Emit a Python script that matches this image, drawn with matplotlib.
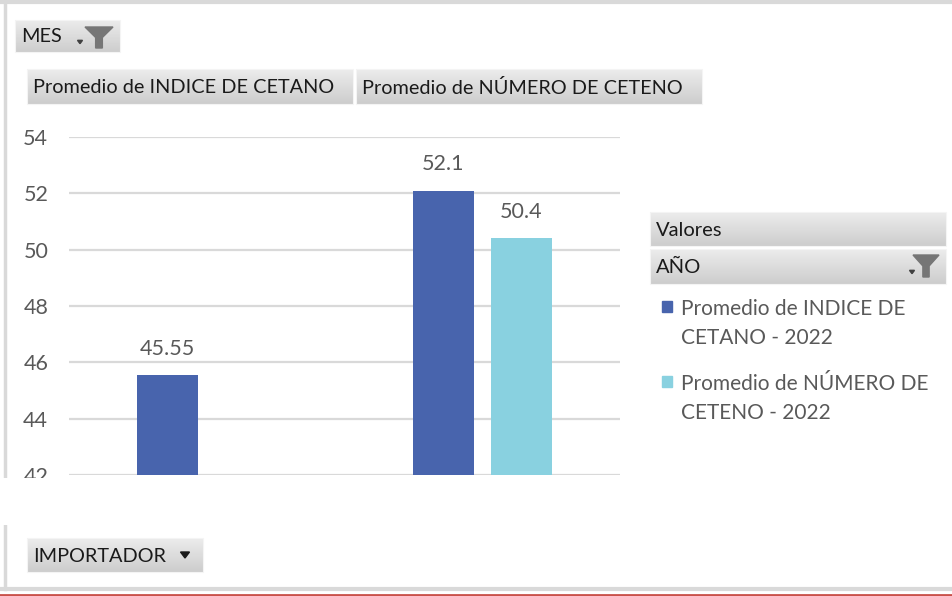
import matplotlib
matplotlib.use("Agg")
import matplotlib.pyplot as plt
import numpy as np
from matplotlib.patches import Rectangle, Polygon

# pivot chart data: two categories, two value series (2022)
categories = ["INDICE DE CETANO", "NÚMERO DE CETENO"]
series_names = ["Promedio de INDICE DE\nCETANO - 2022", "Promedio de NÚMERO DE\nCETENO - 2022"]
indice_cetano = [45.55, 52.1]
numero_ceteno = [np.nan, 50.4]
series_colors = ["#4864AD", "#89D1E0"]
y_ticks = [42, 44, 46, 48, 50, 52, 54]

plt.rcParams["font.family"] = ["Lato", "DejaVu Sans"]
W, H = 953, 596
fig = plt.figure(figsize=(W / 100, H / 100), dpi=100)
fig.patch.set_facecolor("white")

# main plot area in pixel terms
px_l, px_r, px_t, px_b = 69, 620, 137, 475
ax = fig.add_axes([px_l / W, 1 - px_b / H, (px_r - px_l) / W, (px_b - px_t) / H])
ax.set_zorder(1)

x = np.arange(len(categories))
bw = 0.221
off = 0.1416
b1 = ax.bar(x - off, indice_cetano, bw, color=series_colors[0], zorder=3)
b2 = ax.bar(x + off, numero_ceteno, bw, color=series_colors[1], zorder=3)
for bars, vals in [(b1, indice_cetano), (b2, numero_ceteno)]:
    for r, v in zip(bars, vals):
        if np.isnan(v):
            continue
        ax.annotate(f"{v:g}", (r.get_x() + r.get_width() / 2, v), xytext=(0, 19),
                    textcoords="offset points", ha="center", va="center",
                    fontsize=15.5, color="#595959")

ax.set_xlim(-0.5, 1.5)
ax.set_ylim(42, 54)
ax.set_yticks(y_ticks)
ax.set_xticks([])
ax.grid(axis="y", color="#d9d9d9", linewidth=1.6, zorder=0)
ax.tick_params(axis="y", length=0, pad=15, labelsize=15.5, labelcolor="#595959")
for s in ax.spines.values():
    s.set_visible(False)

# overlay in pixel coordinates for the pivot buttons, legend and frame
ov = fig.add_axes([0, 0, 1, 1])
ov.set_zorder(5)
ov.set_xlim(0, W)
ov.set_ylim(H, 0)
ov.axis("off")
ov.patch.set_alpha(0)

grad = np.linspace(0, 1, 50).reshape(-1, 1)
btn_cmap = matplotlib.colors.LinearSegmentedColormap.from_list("btn", ["#ececec", "#cdcdcd"])


def button(x0, y0, x1, y1, label, size=14.3):
    ov.imshow(grad, cmap=btn_cmap, extent=(x0, x1, y1, y0), aspect="auto", zorder=6)
    ov.add_patch(Rectangle((x0, y0), x1 - x0, y1 - y0, fill=False,
                           edgecolor="#f4f4f4", linewidth=0.8, zorder=7))
    ov.text(x0 + 6, (y0 + y1) / 2 + 1, label, fontsize=size, color="#1a1a1a",
            ha="left", va="center", zorder=8)


def funnel(cx, top, w, h):
    pts = [(cx - w / 2, top), (cx + w / 2, top), (cx + w * 0.12, top + h * 0.5),
           (cx + w * 0.12, top + h), (cx - w * 0.12, top + h), (cx - w * 0.12, top + h * 0.5)]
    ov.add_patch(Polygon(pts, closed=True, color="#767676", zorder=8))


def small_arrow(cx, cy, w=6, color="#404040"):
    ov.add_patch(Polygon([(cx - w / 2, cy - w / 3), (cx + w / 2, cy - w / 3), (cx, cy + w / 3)],
                         closed=True, color=color, zorder=8))


# frame lines
ov.plot([0, W], [1.5, 1.5], color="#d9d9d9", linewidth=3, zorder=2)
ov.plot([5, 5], [0, 589], color="#d9d9d9", linewidth=2.5, zorder=2)
ov.plot([0, W], [589, 589], color="#d9d9d9", linewidth=3, zorder=2)
ov.plot([0, W], [595, 595], color="#c9514a", linewidth=2, zorder=2)

# white band hiding the category axis
ov.add_patch(Rectangle((0, 477.5), W, 47, facecolor="white", edgecolor="none", zorder=4))

button(15, 20, 120, 52, "MES")
small_arrow(80, 42, 5)
funnel(99, 27, 28, 21)

button(27, 69, 353, 104, "Promedio de " + categories[0])
button(356, 69, 702, 104, "Promedio de " + categories[1])

button(650, 212, 946, 246, "Valores", 14.5)
button(650, 249, 946, 284, "AÑO", 14.5)
small_arrow(912, 272, 5)
funnel(926, 255, 26, 22)

button(27, 538, 203, 572, "IMPORTADOR", 14.3)
small_arrow(185, 555, 9, "#1a1a1a")

# legend entries
for i, (name, col) in enumerate(zip(series_names, series_colors)):
    yc = 307 + i * 75
    ov.add_patch(Rectangle((662, yc - 6), 10, 11, color=col, zorder=8))
    ov.text(681, yc - 8, name, fontsize=15, color="#595959", ha="left", va="top",
            linespacing=1.55, zorder=8)

fig.savefig("out.png", dpi=100)
